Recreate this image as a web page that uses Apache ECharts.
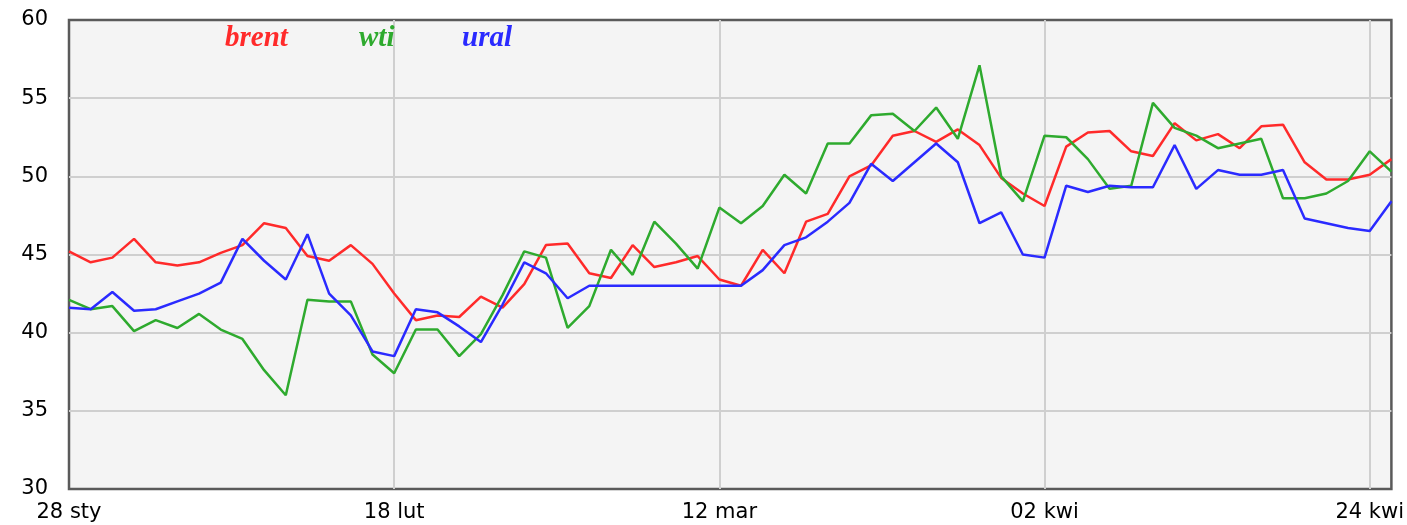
<!DOCTYPE html>
<html>
<head>
    <meta charset="utf-8">
    <title>brent / wti / ural</title>
    <script src="https://cdn.jsdelivr.net/npm/echarts@6/dist/echarts.min.js"></script>
	<style>
		html, body{margin: 0; padding: 0; background: #fff;}
	</style>
</head>
<body>
	<div id="chart" style="width: 1407px;height:525px;"></div>
    <script type="text/javascript">
		// notowania dzienne, 62 sesje
		var days = [];
		for (var i = 0; i < 62; i++) { days.push(i); }

		// podpisy osi X co 15 sesji
		var tickIdx = [0, 15, 30, 45, 60];
		var tickText = ['28 sty', '18 lut', '12 mar', '02 kwi', '24 kwi'];

		var brent = [45.2, 44.5, 44.8, 46.0, 44.5, 44.3, 44.5, 45.1, 45.6, 47.0,
			46.7, 44.9, 44.6, 45.6, 44.4, 42.5, 40.8, 41.1, 41.0, 42.3,
			41.6, 43.1, 45.6, 45.7, 43.8, 43.5, 45.6, 44.2, 44.5, 44.9,
			43.4, 43.0, 45.3, 43.8, 47.1, 47.6, 50.0, 50.7, 52.6, 52.9,
			52.2, 53.0, 52.0, 49.9, 48.9, 48.1, 51.9, 52.8, 52.9, 51.6,
			51.3, 53.4, 52.3, 52.7, 51.8, 53.2, 53.3, 50.9, 49.8, 49.8,
			50.1, 51.1];
		var wti = [42.1, 41.5, 41.7, 40.1, 40.8, 40.3, 41.2, 40.2, 39.6, 37.6,
			36.0, 42.1, 42.0, 42.0, 38.6, 37.4, 40.2, 40.2, 38.5, 39.9,
			42.4, 45.2, 44.8, 40.3, 41.7, 45.3, 43.7, 47.1, 45.7, 44.1,
			48.0, 47.0, 48.1, 50.1, 48.9, 52.1, 52.1, 53.9, 54.0, 52.9,
			54.4, 52.4, 57.1, 50.0, 48.4, 52.6, 52.5, 51.1, 49.2, 49.4,
			54.7, 53.1, 52.6, 51.8, 52.1, 52.4, 48.6, 48.6, 48.9, 49.7,
			51.6, 50.3];
		var ural = [41.6, 41.5, 42.6, 41.4, 41.5, 42.0, 42.5, 43.2, 46.0, 44.6,
			43.4, 46.3, 42.5, 41.1, 38.8, 38.5, 41.5, 41.3, 40.4, 39.4,
			41.8, 44.5, 43.8, 42.2, 43.0, 43.0, 43.0, 43.0, 43.0, 43.0,
			43.0, 43.0, 44.0, 45.6, 46.1, 47.1, 48.3, 50.8, 49.7, 50.9,
			52.1, 50.9, 47.0, 47.7, 45.0, 44.8, 49.4, 49.0, 49.4, 49.3,
			49.3, 52.0, 49.2, 50.4, 50.1, 50.1, 50.4, 47.3, 47.0, 46.7,
			46.5, 48.4];

		var colors = {brent: '#ff2a2a', wti: '#2eaa2e', ural: '#2a2aff'};

		function legendFor(name, left) {
			return {
				data: [name],
				left: left,
				top: 19,
				icon: 'none',
				itemWidth: 0,
				itemHeight: 0,
				textStyle: {
					color: colors[name],
					fontFamily: '"Liberation Serif", serif',
					fontStyle: 'italic',
					fontWeight: 'bold',
					fontSize: 29
				}
			};
		}

		function lineSeries(name, values) {
			return {
				name: name,
				type: 'line',
				data: values,
				symbol: 'none',
				lineStyle: {color: colors[name], width: 2.5},
				itemStyle: {color: colors[name]}
			};
		}

		var chart = echarts.init(document.getElementById('chart'));
		var option = {
			animation: false,
			legend: [legendFor('brent', 215), legendFor('wti', 349), legendFor('ural', 452)],
			grid: {
				left: 69,
				right: 14,
				top: 20,
				bottom: 36,
				show: true,
				backgroundColor: '#f4f4f4',
				borderColor: '#5a5a5a',
				borderWidth: 2.5
			},
			xAxis: {
				type: 'category',
				data: days,
				boundaryGap: false,
				axisLine: {show: false},
				axisTick: {show: false},
				axisLabel: {
					interval: function (idx) { return tickIdx.indexOf(idx) >= 0; },
					formatter: function (v, idx) {
						var k = tickIdx.indexOf(idx);
						return k >= 0 ? tickText[k] : '';
					},
					color: '#000',
					fontFamily: '"DejaVu Sans", sans-serif',
					fontSize: 21,
					margin: 13
				},
				splitLine: {
					show: true,
					interval: function (idx) { return tickIdx.indexOf(idx) > 0; },
					lineStyle: {color: '#cfcfcf', width: 2}
				}
			},
			yAxis: {
				type: 'value',
				min: 30,
				max: 60,
				interval: 5,
				axisLine: {show: false},
				axisTick: {show: false},
				axisLabel: {
					color: '#000',
					fontFamily: '"DejaVu Sans", sans-serif',
					fontSize: 21,
					margin: 21
				},
				splitLine: {
					showMinLine: false,
					showMaxLine: false,
					lineStyle: {color: '#cfcfcf', width: 2}
				}
			},
			series: [
				lineSeries('brent', brent),
				lineSeries('wti', wti),
				lineSeries('ural', ural)
			]
		};
		chart.setOption(option);
    </script>
</body>
</html>
